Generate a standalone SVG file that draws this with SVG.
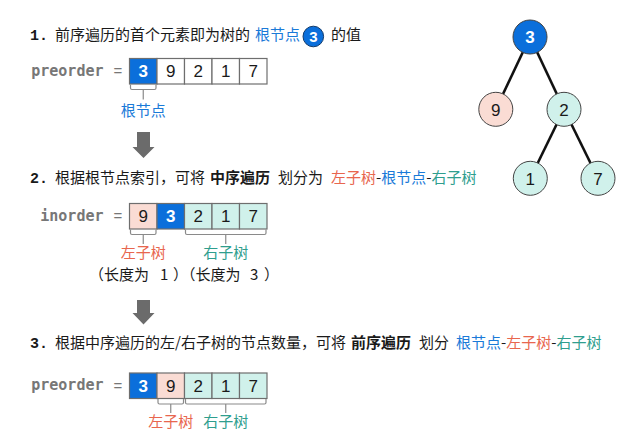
<svg xmlns="http://www.w3.org/2000/svg" width="642" height="438" viewBox="0 0 642 438">
<style>
.h{font-family:"Noto Sans CJK SC","Noto Sans",sans-serif;font-size:15px;fill:#1a1a1a}
.b{font-weight:bold}
.num{font-family:"Liberation Mono",monospace;font-weight:bold;font-size:15px;fill:#1a1a1a}
.lbl{font-family:"DejaVu Sans Mono","Liberation Mono",monospace;font-weight:bold;font-size:15px;fill:#777;text-anchor:end}
.eq{font-family:"Liberation Sans",sans-serif;font-size:15px;fill:#777;text-anchor:middle}
.cell{stroke:#6e6e6e;stroke-width:1.2}
.w{fill:#fff}.root{fill:#0b6fdb}.l{fill:#fadcd4}.r{fill:#d0f1eb}
.d{font-family:"Liberation Sans",sans-serif;font-size:17px;fill:#1a1a1a;text-anchor:middle}
.dw{font-family:"Liberation Sans",sans-serif;font-size:17px;font-weight:bold;fill:#fff;text-anchor:middle}
.br{fill:none;stroke:#8a8a8a;stroke-width:1.2}
.cb{fill:#1a7ad8}.cr{fill:#e8664e}.ct{fill:#2f9e8e}
.s{font-family:"Noto Sans CJK SC","Noto Sans",sans-serif;font-size:15px;text-anchor:middle}
.arrow{fill:#6b6b6b}
.edge{stroke:#111;stroke-width:2.6;fill:none}
.node{stroke:#444;stroke-width:1}
</style>

<g id="step1">
  <text class="num" x="30" y="40">1.</text>
  <text class="h" y="40"><tspan x="55">前序遍历的首个元素即为树的</tspan><tspan x="255" class="cb">根节点</tspan><tspan x="331">的值</tspan></text>
  <circle cx="313.3" cy="36.5" r="10.3" fill="#0b6fdb" stroke="#123a6a" stroke-width="1"/>
  <text class="dw" x="313.3" y="42" style="font-size:15px">3</text>
</g>

<g id="array1">
  <text class="lbl" x="103.5" y="75.5">preorder</text>
  <text class="eq" x="118" y="76">=</text>
  <rect class="cell root" x="129.5" y="58.5" width="27.5" height="25.5"/>
  <rect class="cell w" x="157" y="58.5" width="27.5" height="25.5"/>
  <rect class="cell w" x="184.5" y="58.5" width="27.5" height="25.5"/>
  <rect class="cell w" x="212" y="58.5" width="27.5" height="25.5"/>
  <rect class="cell w" x="239.5" y="58.5" width="27.5" height="25.5"/>
  <text class="dw" x="143.25" y="77.3">3</text>
  <text class="d" x="170.75" y="77.3">9</text>
  <text class="d" x="198.25" y="77.3">2</text>
  <text class="d" x="225.75" y="77.3">1</text>
  <text class="d" x="253.25" y="77.3">7</text>
  <path class="br" d="M130.5 84.5 v3.5 q0 1.5 1.5 1.5 h22.5 q1.5 0 1.5 -1.5 v-3.5 M143.25 89.5 V99.5"/>
  <text class="s cb" x="143.25" y="115.5">根节点</text>
</g>

<g id="arrow1"><path class="arrow" d="M137 132 H150 V147 H154.5 L143.5 158 L132.5 147 H137 Z"/></g>

<g id="step2">
  <text class="num" x="30" y="182.5">2.</text>
  <text class="h" y="182.5"><tspan x="55">根据根节点索引，可将</tspan><tspan x="210" class="b">中序遍历</tspan><tspan x="278">划分为</tspan><tspan x="331" class="cr">左子树</tspan><tspan class="h">-</tspan><tspan class="cb">根节点</tspan><tspan class="h">-</tspan><tspan class="ct">右子树</tspan></text>
</g>

<g id="array2">
  <text class="lbl" x="103.5" y="220.5">inorder</text>
  <text class="eq" x="118" y="221">=</text>
  <rect class="cell l" x="129.5" y="203.5" width="27.5" height="25.5"/>
  <rect class="cell root" x="157" y="203.5" width="27.5" height="25.5"/>
  <rect class="cell r" x="184.5" y="203.5" width="27.5" height="25.5"/>
  <rect class="cell r" x="212" y="203.5" width="27.5" height="25.5"/>
  <rect class="cell r" x="239.5" y="203.5" width="27.5" height="25.5"/>
  <text class="d" x="143.25" y="222.3">9</text>
  <text class="dw" x="170.75" y="222.3">3</text>
  <text class="d" x="198.25" y="222.3">2</text>
  <text class="d" x="225.75" y="222.3">1</text>
  <text class="d" x="253.25" y="222.3">7</text>
  <path class="br" d="M130.5 229.5 v3.5 q0 1.5 1.5 1.5 h22.5 q1.5 0 1.5 -1.5 v-3.5 M143.25 234.5 V244"/>
  <path class="br" d="M185.5 229.5 v3.5 q0 1.5 1.5 1.5 h77.5 q1.5 0 1.5 -1.5 v-3.5 M225.75 234.5 V244"/>
  <text class="s cr" x="143.25" y="258">左子树</text>
  <text class="s ct" x="225.75" y="258">右子树</text>
  <text class="h" y="280"><tspan x="89">（长度为</tspan><tspan x="160">1</tspan><tspan x="173">）（长度为</tspan><tspan x="250">3</tspan><tspan x="264">）</tspan></text>
</g>

<g id="arrow2"><path class="arrow" d="M137 300 H150 V313 H154.5 L143.5 324.5 L132.5 313 H137 Z"/></g>

<g id="step3">
  <text class="num" x="30" y="348">3.</text>
  <text class="h" y="348"><tspan x="55">根据中序遍历的左/右子树的节点数量，可将</tspan><tspan x="351" class="b">前序遍历</tspan><tspan x="419">划分</tspan><tspan x="456" class="cb">根节点</tspan><tspan class="h">-</tspan><tspan class="cr">左子树</tspan><tspan class="h">-</tspan><tspan class="ct">右子树</tspan></text>
</g>

<g id="array3">
  <text class="lbl" x="103.5" y="390">preorder</text>
  <text class="eq" x="118" y="390.5">=</text>
  <rect class="cell root" x="129.5" y="373" width="27.5" height="25.5"/>
  <rect class="cell l" x="157" y="373" width="27.5" height="25.5"/>
  <rect class="cell r" x="184.5" y="373" width="27.5" height="25.5"/>
  <rect class="cell r" x="212" y="373" width="27.5" height="25.5"/>
  <rect class="cell r" x="239.5" y="373" width="27.5" height="25.5"/>
  <text class="dw" x="143.25" y="391.8">3</text>
  <text class="d" x="170.75" y="391.8">9</text>
  <text class="d" x="198.25" y="391.8">2</text>
  <text class="d" x="225.75" y="391.8">1</text>
  <text class="d" x="253.25" y="391.8">7</text>
  <path class="br" d="M158 399 v3.5 q0 1.5 1.5 1.5 h22.5 q1.5 0 1.5 -1.5 v-3.5 M170.75 404 V413"/>
  <path class="br" d="M185.5 399 v3.5 q0 1.5 1.5 1.5 h77.5 q1.5 0 1.5 -1.5 v-3.5 M225.75 404 V413"/>
  <text class="s cr" x="170.75" y="427">左子树</text>
  <text class="s ct" x="225.75" y="427">右子树</text>
</g>

<g id="connectors">
  <line class="edge" x1="530" y1="37" x2="495.8" y2="109.3"/>
  <line class="edge" x1="530" y1="37" x2="564" y2="109.3"/>
  <line class="edge" x1="564" y1="109.3" x2="530.3" y2="178.3"/>
  <line class="edge" x1="564" y1="109.3" x2="598" y2="178.3"/>
</g>
<g id="node3"><circle class="node root" cx="530" cy="37" r="17"/><text class="dw" x="530" y="43.2">3</text></g>
<g id="node9"><circle class="node l" cx="495.8" cy="109.3" r="17"/><text class="d" x="495.8" y="115.5">9</text></g>
<g id="node2"><circle class="node r" cx="564" cy="109.3" r="17"/><text class="d" x="564" y="115.5">2</text></g>
<g id="node1"><circle class="node r" cx="530.3" cy="178.3" r="17"/><text class="d" x="530.3" y="184.5">1</text></g>
<g id="node7"><circle class="node r" cx="598" cy="178.3" r="17"/><text class="d" x="598" y="184.5">7</text></g>
</svg>
